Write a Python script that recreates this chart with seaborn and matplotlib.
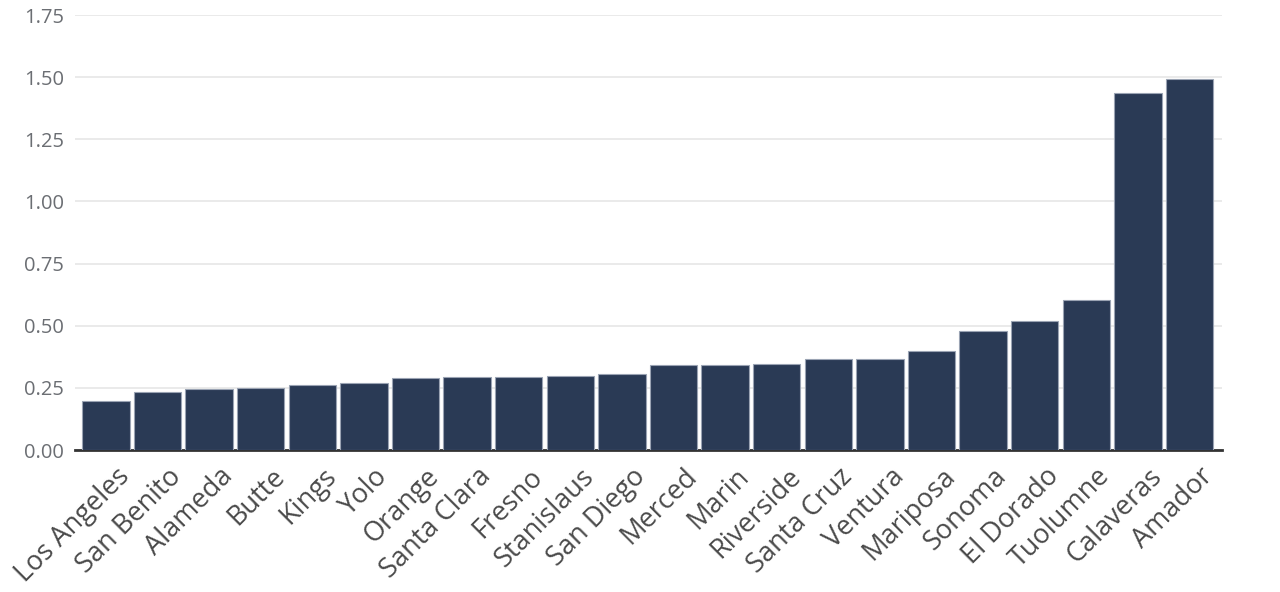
import numpy as np
import pandas as pd
import matplotlib
matplotlib.use('Agg')
import matplotlib.pyplot as plt
import seaborn as sns
from matplotlib.transforms import ScaledTranslation

counties = ['Los Angeles', 'San Benito', 'Alameda', 'Butte', 'Kings', 'Yolo', 'Orange',
            'Santa Clara', 'Fresno', 'Stanislaus', 'San Diego', 'Merced', 'Marin',
            'Riverside', 'Santa Cruz', 'Ventura', 'Mariposa', 'Sonoma', 'El Dorado',
            'Tuolumne', 'Calaveras', 'Amador']
values = [0.197, 0.233, 0.245, 0.249, 0.262, 0.270, 0.290, 0.293, 0.293, 0.298, 0.306,
          0.342, 0.342, 0.346, 0.366, 0.366, 0.398, 0.479, 0.519, 0.604, 1.437, 1.492]
yticks = [0.0, 0.25, 0.5, 0.75, 1.0, 1.25, 1.5, 1.75]

df = pd.DataFrame({'county': counties, 'value': values})

sns.set_theme(style='white')
plt.rcParams['font.family'] = ['Open Sans', 'DejaVu Sans']

fig = plt.figure(figsize=(12.8, 5.92), dpi=100)
ax = fig.add_axes([75/1280, 142/592, 1147/1280, 435/592])

sns.barplot(data=df, x='county', y='value', color='#2a3a55', saturation=1,
            width=0.92, edgecolor='#9aa3b3', linewidth=0.8, ax=ax, zorder=3)

ax.set_ylim(0, 1.75)
ax.set_xlim(-0.6, 21.63)
ax.set_yticks(yticks)
ax.set_yticklabels([f'{t:.2f}' for t in yticks])
ax.yaxis.grid(True, color='#e6e6e6', linewidth=1.2, zorder=0)
ax.set_axisbelow(True)

for s in ['top', 'right', 'left']:
    ax.spines[s].set_visible(False)
ax.spines['bottom'].set_color('#333333')
ax.spines['bottom'].set_linewidth(2)

ax.tick_params(axis='y', length=0, labelsize=14.5, labelcolor='#6b6e73', pad=8)
ax.tick_params(axis='x', length=0, labelsize=19.5, labelcolor='#4a4a4a', pad=9)
ax.set_xticks(range(len(counties)), labels=counties, rotation=45, ha='right',
              rotation_mode='anchor')
for lbl in ax.get_xticklabels():
    lbl.set_transform(lbl.get_transform() + ScaledTranslation(0.1, 0, fig.dpi_scale_trans))
ax.set_xlabel('')
ax.set_ylabel('')

fig.savefig('out.png', dpi=100)
